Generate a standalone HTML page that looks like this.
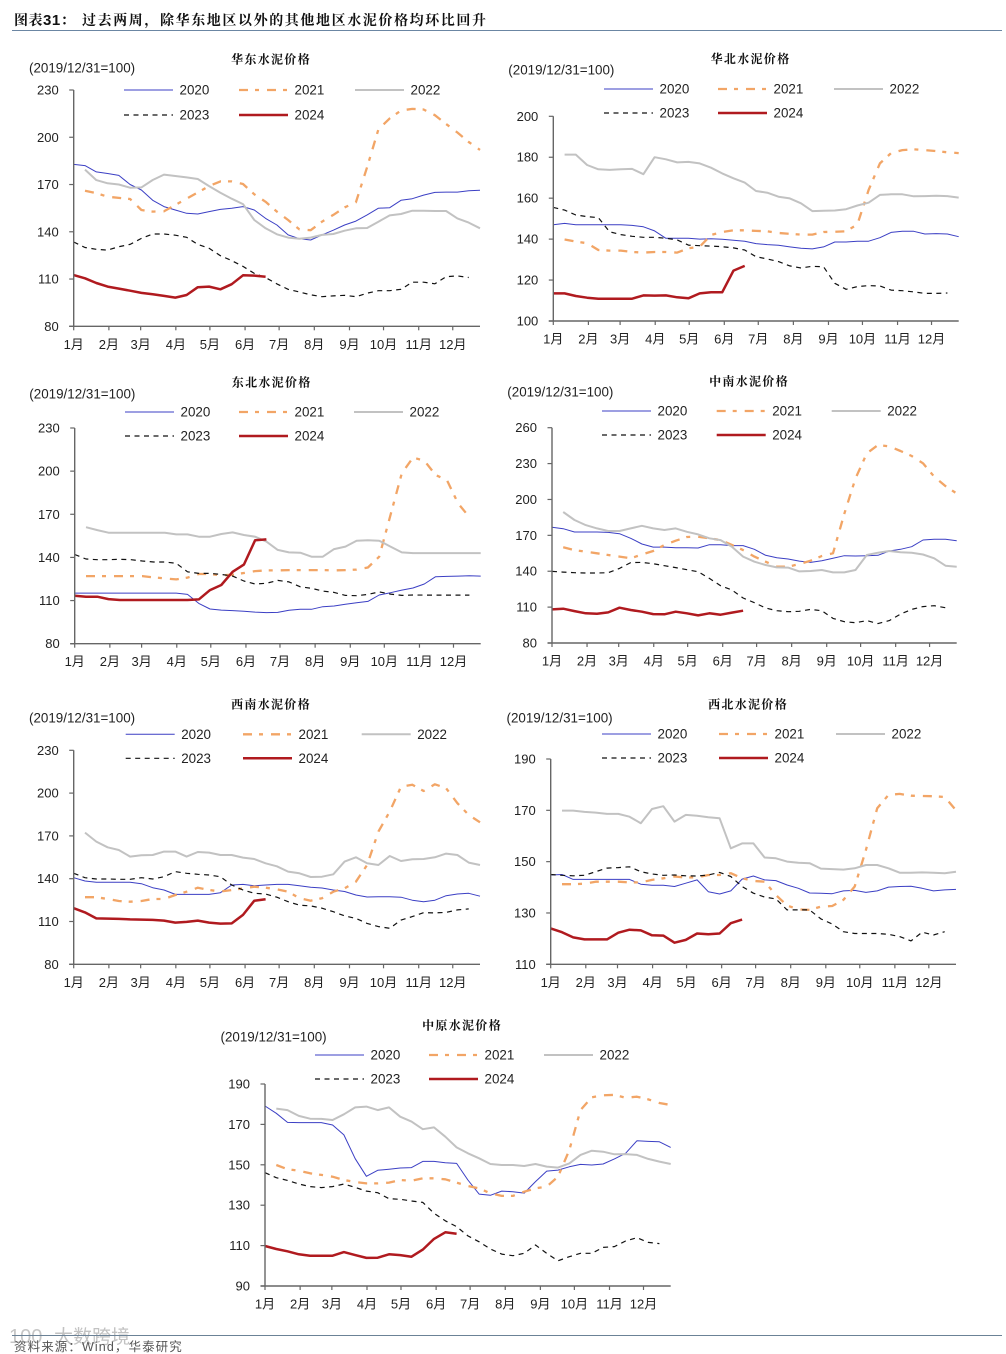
<!DOCTYPE html>
<html lang="zh-CN">
<head>
<meta charset="utf-8">
<title>图表31</title>
<style>
html,body{margin:0;padding:0;background:#fff;}
body{width:1006px;height:1354px;overflow:hidden;position:relative;}
svg{position:absolute;left:0;top:0;display:block;}
.cjk{font-family:"Noto Serif CJK SC","Liberation Serif",serif;}
.sans{font-family:"Liberation Sans","Noto Sans CJK SC",sans-serif;}
</style>
</head>
<body>
<svg id="page" width="1006" height="1354" viewBox="0 0 1006 1354" xmlns="http://www.w3.org/2000/svg">
  <text x="14" y="25" class="cjk" font-size="14" font-weight="700" letter-spacing="0.5" fill="#111">图表<tspan class="sans" font-size="15">31</tspan>：</text>
  <text x="82" y="25" class="cjk" font-size="14" font-weight="700" letter-spacing="1.6" fill="#111">过去两周，除华东地区以外的其他地区水泥价格均环比回升</text>
  <line x1="12" y1="30.5" x2="1002" y2="30.5" stroke="#6b86a3" stroke-width="1"></line>
  <g>
    <text x="9" y="1343" class="sans" font-size="20" fill="#c6c6c6">100</text>
    <text x="54" y="1343" class="sans" font-size="19" fill="#c2c2c2">大数跨境</text>
  </g>
  <line x1="12" y1="1335.5" x2="1002" y2="1335.5" stroke="#6b8296" stroke-width="1"></line>
  <text x="14" y="1351" class="sans" font-size="12.5" letter-spacing="1.1" fill="#555">资料来源：Wind，华泰研究</text>
  <g id="charts"></g>
</svg>
<script>
// Shared category data
const months = ["1月","2月","3月","4月","5月","6月","7月","8月","9月","10月","11月","12月"];
const monthStartDays = [0,31,59,90,120,151,181,212,243,273,304,334];
const daysOnAxis = 358;
const years = ["2020","2021","2022","2023","2024"];
const samplesPerYear = 36;
const unitLabel = "(2019/12/31=100)";

// 华东
const eastTicks = [80,110,140,170,200,230];
const east2020 = [182.8,182,178,177,175.8,170,166.5,160,156,153.8,151.7,151.3,152.8,154.2,155,156,153.8,148.5,144.3,138,135.6,134.8,138,141,144.3,146.8,150.7,155,155.3,160,161,163.3,165,165.2,165.2,166,166.3];
const east2021 = [null,166,164.5,162.3,161.5,160.8,153.8,152.8,153,157,161,165,169,172,172,170.3,163.8,159,152.8,147.5,141.5,141,146.4,150.7,155.5,158.7,181,205,212,217,218,217.6,214,208.4,203,197,192];
const east2022 = [null,179.5,172.8,170.8,170,168,168.2,172.9,176.3,175.4,174.5,173.5,169,164.8,161,157.6,147.5,142.2,138.4,136.3,135.6,136.3,138,138.6,140.7,142.2,142.4,146.4,150.4,151.3,153.4,153.4,153.2,153.2,148.5,145.8,142.2];
const east2023 = [133.5,130,128.9,128.4,130.5,132,135.8,138.6,138.6,137.8,136.5,132,129.5,124.8,121.7,118,113.6,110.9,106.9,103.5,101.8,100,98.8,99.3,99.7,98.8,101,102.6,102.6,103.5,108,108,107,111.5,112,111,null];
const east2024 = [112.5,110.5,107.5,105.2,103.9,102.6,101.2,100.3,99.3,98.2,99.9,104.8,105.2,103.5,106.7,112.4,112.2,111.5];

// 华北
const northTicks = [100,120,140,160,180,200];
const north2020 = [147,147.7,147,147,147,147,147,146.7,146,144,140.4,140.4,140.4,140,140.2,139.9,139.4,139,137.8,137.3,137,136.2,135.5,135.2,136.2,138.6,138.6,139,139,140.7,143.3,143.8,143.8,142.5,142.7,142.5,141.2];
const north2021 = [null,139.8,138.8,138,134.7,134.4,134.4,133.7,133.4,133.7,133.7,133.4,135.5,136.3,142,143.5,144.3,144.3,144,143.8,143,142.6,142.2,142.2,143.5,143.6,143.8,147.2,164,177,182,183.5,183.9,183.5,183,182.4,182];
const north2022 = [null,181.3,181.3,176.2,174.1,173.8,174.1,174.3,171.7,180,179,177.5,177.7,177,174.9,172.1,169.7,167.6,163.5,162.7,160.7,159.9,157.5,153.7,153.9,154,154.6,156.4,157.8,161.6,161.9,161.9,160.9,161,161.2,161,160.3];
const north2023 = [155.5,154.2,151.8,151,150.5,143.6,142.2,141.4,140.9,140.9,140.4,139.6,137.1,136.8,136.6,136.3,135.7,134.7,131.4,130.3,129,126.9,125.9,126.7,126.5,118.4,115.5,116.8,117.3,117.1,115.1,114.8,114.2,113.5,113.5,113.7,null];
const north2024 = [113.5,113.5,112.2,111.4,110.9,110.9,110.9,110.9,112.5,112.4,112.5,111.6,111.1,113.5,114,114,124.6,126.9];

// 东北
const northeastTicks = [80,110,140,170,200,230];
const northeast2020 = [115.2,115.2,115.2,115.2,115.2,115.2,115.2,115.2,115.2,115.2,114.3,108,104.1,103.4,103,102.5,102,101.6,101.8,103.2,103.9,103.9,105.7,106.2,107.4,108.5,109.4,113.9,115.5,117.3,118.7,121.5,126.6,126.8,127,127.3,127];
const northeast2021 = [null,127,127,127,127,127,127,126.1,125.4,124.7,126,128.5,128.5,127.5,128,129.2,130.5,131,131,131.2,131.2,131.2,131.2,131,131.2,131.5,133,140.5,169.5,198.5,209.4,207.3,197.3,193.8,177.6,168,null];
const northeast2022 = [null,161,159,157.2,157.2,157.2,157.2,157.2,157.2,156,156,154.4,154.4,156.3,157.4,155.6,154.4,151,145.2,143.5,143.3,140.5,140.5,145.8,147.5,151.6,151.9,151.6,147.5,143.5,143,143,143,143,143,143,143];
const northeast2023 = [142,138.9,138.4,138.4,138.7,138.4,137.5,136.8,136.8,135.9,130,128.9,128.9,128.2,127,123.6,121.5,122,124,123,119.6,118.5,116.6,115.7,113.6,113.4,114.3,116,114.5,113.6,113.9,113.8,113.8,113.8,113.8,113.8,null];
const northeast2024 = [113.4,112.7,112.7,111,110.4,110.4,110.4,110.4,110.4,110.4,110.4,110.8,117.3,120.8,130,135,151.9,152.5];

// 中南
const centralSouthTicks = [80,110,140,170,200,230,260];
const centralSouth2020 = [176.7,175.6,172.8,172.8,172.8,172.5,171.4,167.5,162.8,160.2,160.2,159.7,159.7,159.4,162.2,162.2,161.4,161.4,158.3,153.3,151.3,150.2,148.5,147.4,148.8,150.8,153,152.7,153,153.3,156.9,158.3,160.5,166.1,166.7,166.7,165.5];
const centralSouth2021 = [null,160,157.7,156.3,155,153.6,152.2,150.8,154,156.9,161.9,165.5,168.6,168.9,167.5,166,162,157.7,152.2,148,143.8,143.8,146,148.8,152.7,155,188,217.6,238.5,245.5,244.4,240.5,236.3,230.2,219,211.2,205];
const centralSouth2022 = [null,189.5,182.8,178.6,175.8,173.6,173.6,175.8,178,175.8,174.5,175.8,173,170.8,167.5,166,160.5,152.2,148,145.2,143.2,143,139.9,140.2,141,139,139,141,153.6,155.5,156.9,155.8,155.5,154,150.8,144.6,143.8];
const centralSouth2023 = [139.9,139.3,138.8,138.5,138.5,138.8,142.4,147.2,147.4,146.3,144.6,143,141.3,139.6,134,127.9,124.3,117.6,113.7,109.3,107,106.2,106.5,108.1,107,100.6,97.8,97,98.7,96.2,98.7,104.2,108.1,110.4,111.2,109.5,null];
const centralSouth2024 = [108.1,108.7,106.7,104.8,104.5,105.6,109.5,107.6,106.2,104.2,104,106.2,104.8,103.1,104.8,103.7,105.4,107];

// 西南
const southwestTicks = [80,110,140,170,200,230];
const southwest2020 = [140.7,138.4,137.5,137.5,137.5,137.5,136.5,133.7,132.1,129,129,129,129,130.2,135.6,136,135,135.6,136,136,135.1,134,133.5,132.1,131,128.6,127.2,127.4,127.4,127,124.9,123.9,124.9,128.1,129.3,129.8,127.7];
const southwest2021 = [null,127,127,125.8,124.4,123.9,124.4,125.8,125.8,128.6,130.9,133.7,132.1,131,132,133.3,134.4,133.7,132.6,130.9,126.3,124.6,126.3,130.9,133.3,137.9,149.6,173,187,204.5,205.9,201.5,206.2,203.4,192.9,184.7,179.5];
const southwest2022 = [null,172.3,166,162,160.1,155.5,156.4,156.6,159,159,155.5,158.7,158.3,156.6,156.6,154.8,153.8,150.8,148.7,145,143.8,141.2,141.4,143.1,152,155,150.8,149.6,155.9,152.4,153.6,153.8,155,157.6,156.6,151.3,149.6];
const southwest2023 = [143.8,140.7,139.8,139.8,139.6,139.6,140.7,139.8,141.4,145,143.8,143.1,142.6,141.4,135.6,132.1,129.8,129.3,127,123.9,121.4,120.9,119.3,116.9,113.9,112.2,108.7,106.4,105.2,111,113.4,116.2,116,116.4,118.1,118.8,null];
const southwest2024 = [119.3,116.4,112.2,112,111.8,111.5,111.3,111.1,110.6,109.2,109.7,110.6,109.2,108.5,108.7,114.6,124.6,125.6];

// 西北
const northwestTicks = [110,130,150,170,190];
const northwest2020 = [144.8,145,143.1,143.1,143.1,143.1,143.1,143.1,141.2,140.8,140.8,140.3,141.6,142.9,138.3,137.4,138.6,143.2,144.4,142.9,142.6,140.9,139.6,137.8,137.7,137.5,138.6,138.8,138,138.6,140.1,140.3,140.4,139.6,138.6,139,139.2];
const northwest2021 = [null,141.2,141.2,141.4,142.2,142.2,142.2,141.9,141.9,142.9,143.5,144.2,143.8,143.9,144.8,144.8,145.5,143.5,142.5,142.2,137,132.9,131.4,131.2,132.5,132.7,135.1,140.3,154.5,170.8,176,176.4,175.7,175.6,175.5,175.2,170];
const northwest2022 = [null,169.9,169.9,169.4,169.1,168.6,168.6,167.5,165,170.5,171.6,165.6,168.2,167.9,167.3,166.9,155.2,157.1,157.1,151.6,151.3,150,149.6,149.4,147.3,147.1,146.9,147.4,148.7,148.7,147.4,145.7,145.7,145.8,145.7,145.5,146.1];
const northwest2023 = [145,144.7,144.5,144.7,146.1,147.5,147.7,148,146.1,145.2,144.7,144.8,144.5,144.4,144.8,145.8,144.2,140.3,137.7,136.2,135.5,131.2,131.2,131.2,127.7,125.7,122.7,122,122,122,121.7,120.8,119.1,122.5,121.4,122.7,null];
const northwest2024 = [124,122.5,120.5,119.7,119.7,119.7,122.3,123.5,123.2,121.3,121.2,118.4,119.5,122,121.7,122,126,127.4];

// 中原
const centralPlainTicks = [90,110,130,150,170,190];
const centralPlain2020 = [179.1,175.5,171,170.9,170.9,170.9,169.7,164.8,153,144.3,147.3,147.8,148.4,148.6,151.7,151.7,151,150.7,142.5,135.5,134.9,137,136.7,136,141.7,146.9,147.4,149,150.2,149.9,150.4,152.9,155.7,161.9,161.6,161.4,158.6];
const centralPlain2021 = [null,149.9,147.8,147.1,145.8,145,144.1,142.5,141.5,140.8,140.8,141.2,142.5,142.1,143.3,143.3,142.8,141.2,139.5,138.3,135.9,134.6,134.6,136.7,138.3,139.2,144.1,157.3,177.1,183.4,184.4,184.6,183.2,183.7,182.4,180.6,179.6];
const centralPlain2022 = [null,177.8,177.1,174.2,172.8,172.7,172.2,175,178.4,178.8,177.1,178.4,173.8,171.4,167.6,168.5,163.9,158.6,155.7,153.2,150.4,149.9,149.9,149.4,150.4,149.1,148.6,150.7,154.9,157,156.5,155.2,155.3,154.9,152.9,151.6,150.4];
const centralPlain2023 = [146.1,143.6,142.3,140.5,139.2,138.7,139.2,140.5,138.8,137,136.2,133.2,132.9,132.1,131.4,126,122.3,119.4,114.8,111.9,108.3,105.8,105,106.2,110.3,106.2,102.5,104.5,106.2,106.2,109.1,109.5,112.3,113.9,111.6,111,null];
const centralPlain2024 = [109.8,108.3,107.2,105.7,105,105,105,106.8,105.3,103.9,104,105.7,105.3,104.5,108,113.3,116.6,115.9];

const seriesStyles = [
  {color:"#3b3fc4", width:1, dash:""},
  {color:"#f2a566", width:2.3, dash:"9 7 4 8"},
  {color:"#c2c2c2", width:2, dash:""},
  {color:"#111111", width:1.2, dash:"5 4.5"},
  {color:"#b01a1f", width:2.5, dash:""}
];

const charts = [
  {key:"east-china", title:"华东水泥价格", ticks:eastTicks, data:[east2020,east2021,east2022,east2023,east2024],
   x0:73.7,x1:480,yt:90,yb:326.3,tx:271,ty:59,ux:29,uy:68,lx:[124,239,355],ly:[90,115]},
  {key:"north-china", title:"华北水泥价格", ticks:northTicks, data:[north2020,north2021,north2022,north2023,north2024],
   x0:553.3,x1:958.7,yt:116.3,yb:321,tx:750.5,ty:58.7,ux:508.3,uy:70,lx:[604,718,834],ly:[89,113]},
  {key:"northeast-china", title:"东北水泥价格", ticks:northeastTicks, data:[northeast2020,northeast2021,northeast2022,northeast2023,northeast2024],
   x0:74.7,x1:480.7,yt:428,yb:643.7,tx:271.7,ty:382,ux:29.3,uy:394,lx:[125,239,354],ly:[412,436]},
  {key:"central-south-china", title:"中南水泥价格", ticks:centralSouthTicks, data:[centralSouth2020,centralSouth2021,centralSouth2022,centralSouth2023,centralSouth2024],
   x0:552,x1:956.7,yt:427.7,yb:643,tx:749,ty:381,ux:507.3,uy:392,lx:[602,716.7,831.7],ly:[411,435]},
  {key:"southwest-china", title:"西南水泥价格", ticks:southwestTicks, data:[southwest2020,southwest2021,southwest2022,southwest2023,southwest2024],
   x0:73.7,x1:480,yt:750.3,yb:964.3,tx:271,ty:704,ux:29,uy:718,lx:[125.7,243,361.7],ly:[734.3,758.3]},
  {key:"northwest-china", title:"西北水泥价格", ticks:northwestTicks, data:[northwest2020,northwest2021,northwest2022,northwest2023,northwest2024],
   x0:550.7,x1:956,yt:759,yb:964.3,tx:748,ty:704,ux:506.5,uy:718,lx:[602,719,836],ly:[734,758]},
  {key:"central-plain", title:"中原水泥价格", ticks:centralPlainTicks, data:[centralPlain2020,centralPlain2021,centralPlain2022,centralPlain2023,centralPlain2024],
   x0:265,x1:670.7,yt:1084,yb:1286,tx:462,ty:1025,ux:220.5,uy:1037,lx:[315,429,544],ly:[1055,1079]}
];

const NS = "http://www.w3.org/2000/svg";
const SANS = '"Liberation Sans","Noto Sans CJK SC",sans-serif';
const SERIF = '"Noto Serif CJK SC","Liberation Serif",serif';
const root = document.getElementById("charts");

function make(parent, tag, attrs, text) {
  const el = document.createElementNS(NS, tag);
  for (const k in attrs) el.setAttribute(k, attrs[k]);
  if (text !== undefined) el.textContent = text;
  parent.appendChild(el);
  return el;
}

function drawChart(c) {
  const xScale = i => c.x0 + (c.x1 - c.x0) * i / samplesPerYear;
  const xDay = d => c.x0 + (c.x1 - c.x0) * d / daysOnAxis;
  const yMin = c.ticks[0], yMax = c.ticks[c.ticks.length - 1];
  const yScale = v => c.yb - (c.yb - c.yt) * (v - yMin) / (yMax - yMin);

  const g = make(root, "g", {});
  
  

  const title = make(g, "text", {x:c.tx, y:c.ty, "text-anchor":"middle", "dominant-baseline":"central", "font-family":SERIF, "font-size":12, "font-weight":700, "letter-spacing":1.3, fill:"#111"}, c.title);
  
  

  const unit = make(g, "text", {x:c.ux, y:c.uy, "dominant-baseline":"central", "font-family":SANS, "font-size":13.4, fill:"#222"}, unitLabel);
  
  

  // series
  c.data.forEach((values, s) => {
    const st = seriesStyles[s];
    let d = "", pen = false;
    values.forEach((v, i) => {
      if (v === null || v === undefined) { pen = false; return; }
      d += (pen ? "L" : "M") + xScale(i).toFixed(1) + " " + yScale(v).toFixed(1);
      pen = true;
    });
    const line = make(g, "path", {d:d, fill:"none", stroke:st.color, "stroke-width":st.width, "stroke-linejoin":"round"});
    if (st.dash) line.setAttribute("stroke-dasharray", st.dash);
    
    
  });

  // y axis
  const yAxis = make(g, "line", {x1:c.x0, y1:c.yt, x2:c.x0, y2:c.yb, stroke:"#666", "stroke-width":1.4});
  
  
  c.ticks.forEach(t => {
    const y = yScale(t);
    const mark = make(g, "line", {x1:c.x0 - 4.5, y1:y, x2:c.x0, y2:y, stroke:"#666", "stroke-width":1.2});
    
    
    const lab = make(g, "text", {x:c.x0 - 15, y:y, "text-anchor":"end", "dominant-baseline":"central", "font-family":SANS, "font-size":13, fill:"#222"}, String(t));
    
    
  });

  // x axis
  const xAxis = make(g, "line", {x1:c.x0 - 4.5, y1:c.yb, x2:c.x1, y2:c.yb, stroke:"#666", "stroke-width":1.4});
  
  
  months.forEach((m, i) => {
    const x = xDay(monthStartDays[i]);
    const mark = make(g, "line", {x1:x, y1:c.yb, x2:x, y2:c.yb + 4, stroke:"#666", "stroke-width":1.2});
    
    
    const lab = make(g, "text", {x:x, y:c.yb + 18, "text-anchor":"middle", "dominant-baseline":"central", "font-family":SANS, "font-size":13, fill:"#222"}, m);
    
    
  });

  // legend
  years.forEach((yr, s) => {
    const col = s % 3, row = s < 3 ? 0 : 1;
    const lx = c.lx[col], ly = c.ly[row], st = seriesStyles[s];
    const key = make(g, "line", {x1:lx, y1:ly, x2:lx + 49, y2:ly, stroke:st.color, "stroke-width":st.width});
    if (st.dash) key.setAttribute("stroke-dasharray", st.dash);
    
    
    const lab = make(g, "text", {x:lx + 55.5, y:ly, "dominant-baseline":"central", "font-family":SANS, "font-size":13.4, fill:"#222"}, yr);
    
    
  });
}

charts.forEach(drawChart);
</script>
</body>
</html>
